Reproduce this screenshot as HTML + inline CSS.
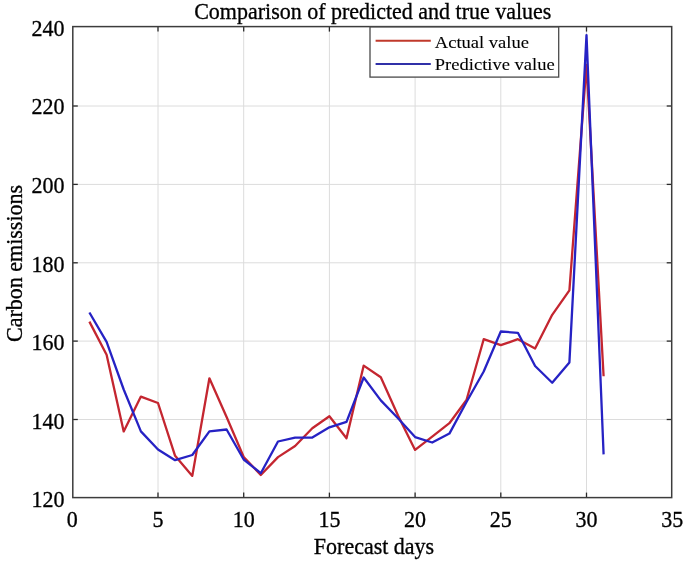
<!DOCTYPE html>
<html><head><meta charset="utf-8"><style>
html,body{margin:0;padding:0;background:#fff;}
svg{display:block;will-change:transform;}
text{font-family:"Liberation Serif",serif;fill:#000;stroke:#000;stroke-width:0.3px;}
</style></head><body>
<svg width="685" height="563" viewBox="0 0 685 563">
<rect x="0" y="0" width="685" height="563" fill="#fff"/>
<g stroke="#dcdcdc" stroke-width="1">
<line x1="158.0" y1="26.6" x2="158.0" y2="497.6"/>
<line x1="243.7" y1="26.6" x2="243.7" y2="497.6"/>
<line x1="329.4" y1="26.6" x2="329.4" y2="497.6"/>
<line x1="415.1" y1="26.6" x2="415.1" y2="497.6"/>
<line x1="500.8" y1="26.6" x2="500.8" y2="497.6"/>
<line x1="586.5" y1="26.6" x2="586.5" y2="497.6"/>
<line x1="72.8" y1="419.5" x2="671.7" y2="419.5"/>
<line x1="72.8" y1="341.1" x2="671.7" y2="341.1"/>
<line x1="72.8" y1="262.8" x2="671.7" y2="262.8"/>
<line x1="72.8" y1="184.4" x2="671.7" y2="184.4"/>
<line x1="72.8" y1="106.0" x2="671.7" y2="106.0"/>
</g>
<polyline fill="none" stroke="#c42630" stroke-width="2.3" stroke-linejoin="round" points="89.4,321.6 106.6,354.7 123.7,431.4 140.9,396.6 158.0,403.0 175.1,455.8 192.3,475.9 209.4,378.3 226.6,417.0 243.7,457.0 260.8,475.0 278.0,457.1 295.1,446.0 312.3,428.2 329.4,416.3 346.5,438.3 363.7,365.6 380.8,377.3 398.0,415.5 415.1,449.9 432.2,436.6 449.4,423.2 466.5,400.0 483.7,339.2 500.8,345.2 517.9,339.2 535.1,348.5 552.2,314.8 569.4,290.3 586.5,65.0 603.6,376.2"/>
<polyline fill="none" stroke="#2622c4" stroke-width="2.3" stroke-linejoin="round" points="89.4,312.5 106.6,341.9 123.7,389.5 140.9,431.4 158.0,449.5 175.1,460.2 192.3,455.0 209.4,431.3 226.6,429.5 243.7,459.5 260.8,473.2 278.0,441.5 295.1,437.6 312.3,437.6 329.4,427.3 346.5,421.9 363.7,377.5 380.8,400.4 398.0,418.3 415.1,437.1 432.2,442.5 449.4,433.6 466.5,402.0 483.7,371.5 500.8,331.5 517.9,332.8 535.1,366.0 552.2,382.7 569.4,362.4 586.5,35.1 603.6,454.4"/>
<g stroke="#2a2a2a" stroke-width="1.3">
<line x1="158.0" y1="497.6" x2="158.0" y2="492.6"/>
<line x1="158.0" y1="26.6" x2="158.0" y2="31.6"/>
<line x1="243.7" y1="497.6" x2="243.7" y2="492.6"/>
<line x1="243.7" y1="26.6" x2="243.7" y2="31.6"/>
<line x1="329.4" y1="497.6" x2="329.4" y2="492.6"/>
<line x1="329.4" y1="26.6" x2="329.4" y2="31.6"/>
<line x1="415.1" y1="497.6" x2="415.1" y2="492.6"/>
<line x1="415.1" y1="26.6" x2="415.1" y2="31.6"/>
<line x1="500.8" y1="497.6" x2="500.8" y2="492.6"/>
<line x1="500.8" y1="26.6" x2="500.8" y2="31.6"/>
<line x1="586.5" y1="497.6" x2="586.5" y2="492.6"/>
<line x1="586.5" y1="26.6" x2="586.5" y2="31.6"/>
<line x1="72.8" y1="419.5" x2="77.8" y2="419.5"/>
<line x1="671.7" y1="419.5" x2="666.7" y2="419.5"/>
<line x1="72.8" y1="341.1" x2="77.8" y2="341.1"/>
<line x1="671.7" y1="341.1" x2="666.7" y2="341.1"/>
<line x1="72.8" y1="262.8" x2="77.8" y2="262.8"/>
<line x1="671.7" y1="262.8" x2="666.7" y2="262.8"/>
<line x1="72.8" y1="184.4" x2="77.8" y2="184.4"/>
<line x1="671.7" y1="184.4" x2="666.7" y2="184.4"/>
<line x1="72.8" y1="106.0" x2="77.8" y2="106.0"/>
<line x1="671.7" y1="106.0" x2="666.7" y2="106.0"/>
</g>
<rect x="72.8" y="26.6" width="598.9" height="471.0" fill="none" stroke="#3c3c3c" stroke-width="1.5"/>
<text transform="translate(72.30,527.20) scale(1,1.09)" font-size="22" text-anchor="middle">0</text>
<text transform="translate(158.00,527.20) scale(1,1.09)" font-size="22" text-anchor="middle">5</text>
<text transform="translate(243.70,527.20) scale(1,1.09)" font-size="22" text-anchor="middle">10</text>
<text transform="translate(329.40,527.20) scale(1,1.09)" font-size="22" text-anchor="middle">15</text>
<text transform="translate(415.10,527.20) scale(1,1.09)" font-size="22" text-anchor="middle">20</text>
<text transform="translate(500.80,527.20) scale(1,1.09)" font-size="22" text-anchor="middle">25</text>
<text transform="translate(586.50,527.20) scale(1,1.09)" font-size="22" text-anchor="middle">30</text>
<text transform="translate(672.20,527.20) scale(1,1.09)" font-size="22" text-anchor="middle">35</text>
<text transform="translate(64.60,507.00) scale(1,1.09)" font-size="22" text-anchor="end">120</text>
<text transform="translate(64.60,428.90) scale(1,1.09)" font-size="22" text-anchor="end">140</text>
<text transform="translate(64.60,350.30) scale(1,1.09)" font-size="22" text-anchor="end">160</text>
<text transform="translate(64.60,271.60) scale(1,1.09)" font-size="22" text-anchor="end">180</text>
<text transform="translate(64.60,192.70) scale(1,1.09)" font-size="22" text-anchor="end">200</text>
<text transform="translate(64.60,114.30) scale(1,1.09)" font-size="22" text-anchor="end">220</text>
<text transform="translate(64.60,35.80) scale(1,1.09)" font-size="22" text-anchor="end">240</text>
<text transform="translate(372.80,19.30) scale(1,1.09)" font-size="22" text-anchor="middle">Comparison of predicted and true values</text>
<text transform="translate(374.00,553.50) scale(1,1.09)" font-size="22" text-anchor="middle">Forecast days</text>
<text transform="translate(21.90,263.40) rotate(-90) scale(1,1.09)" font-size="22" text-anchor="middle">Carbon emissions</text>
<rect x="370.0" y="27.0" width="188.7" height="50.1" fill="#fff" stroke="#4a4a4a" stroke-width="1.3"/>
<line x1="375.6" y1="40.8" x2="430.8" y2="40.8" stroke="#c0392b" stroke-width="2"/>
<line x1="375.6" y1="64" x2="430.8" y2="64" stroke="#3030a8" stroke-width="2"/>
<text style="stroke-width:0.1px" transform="translate(434.80,47.90) scale(1,0.935)" font-size="18.55">Actual value</text>
<text style="stroke-width:0.1px" transform="translate(434.80,69.80) scale(1,0.935)" font-size="18.55">Predictive value</text>
</svg>
</body></html>
